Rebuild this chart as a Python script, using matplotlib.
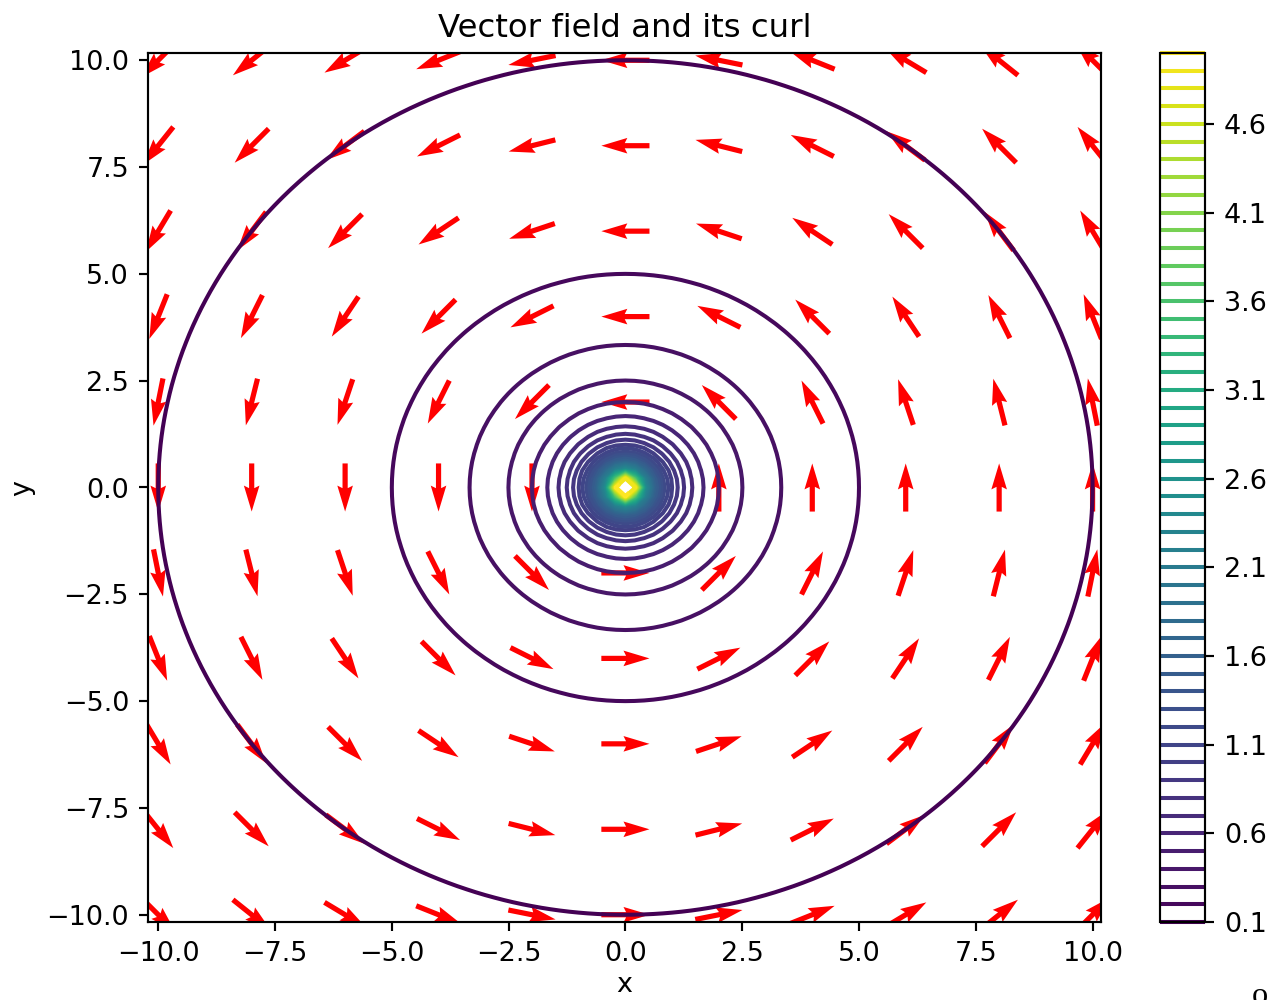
import numpy as np
import matplotlib
matplotlib.use("Agg")
import matplotlib.pyplot as plt

# arrow grid (positions of the quiver arrows)
arrow_x = [-10, -8, -6, -4, -2, 0, 2, 4, 6, 8, 10]
arrow_y = [-10, -8, -6, -4, -2, 0, 2, 4, 6, 8, 10]

# fine grid for the curl contours
grid_n = 101
grid_lim = 10

# contour levels of the curl (0.1 ... 5.0)
curl_levels = [round(0.1 * k, 1) for k in range(1, 51)]

title = "Vector field and its curl"

X, Y = np.meshgrid(np.array(arrow_x, float), np.array(arrow_y, float))
with np.errstate(divide="ignore", invalid="ignore"):
    R = np.sqrt(X**2 + Y**2)
    U = -Y / R
    V = X / R

gx = np.linspace(-grid_lim, grid_lim, grid_n)
GX, GY = np.meshgrid(gx, gx)
with np.errstate(divide="ignore", invalid="ignore"):
    curl = 1.0 / np.sqrt(GX**2 + GY**2)
curl = np.ma.masked_invalid(curl)

DPI = 194
fig = plt.figure(figsize=(1269 / DPI, 1000 / DPI), dpi=DPI)
ax = fig.add_axes([0.1166, 0.078, 0.751, 0.869])
cax = fig.add_axes([0.914, 0.078, 0.0355, 0.869])

cs = ax.contour(GX, GY, curl, levels=curl_levels, cmap="viridis")
ax.quiver(X, Y, U, V, color="r", pivot="mid")

ax.set_xlim(-10.22, 10.18)
ax.set_ylim(-10.17, 10.17)
ax.set_title(title, fontsize=12)
ax.set_xlabel("x", labelpad=2)
ax.set_ylabel("y")

cb = fig.colorbar(cs, cax=cax)
cb.set_ticks(curl_levels[::5])

# cut-off glyph in the bottom right corner of the original
fig.text(1252 / 1269, -0.004, "o", fontsize=12, family="Liberation Serif")

fig.savefig("out.png", dpi=DPI)
